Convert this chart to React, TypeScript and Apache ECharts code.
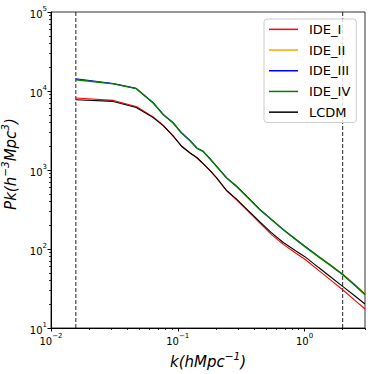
import React, { useEffect, useRef } from "react";
import * as echarts from "echarts";

const K = [0.0157, 0.031, 0.047, 0.064, 0.077, 0.092, 0.107, 0.125, 0.141, 0.158, 0.18, 0.202, 0.243, 0.291, 0.35, 0.445, 0.55, 0.68, 0.85, 1.0, 1.3, 1.6, 2.0, 2.5, 3.0];

const IDE_I = [8150, 7600, 6380, 4690, 3670, 2710, 2014, 1644, 1440, 1205, 979, 792, 543, 420, 312, 212, 152, 114.6, 89, 74.7, 53.2, 40.7, 30.5, 22.4, 17.4];
const IDE_II = [14100, 12350, 10750, 7080, 5020, 3950, 2950, 2360, 1900, 1726, 1383, 1115, 795, 622, 463, 316, 236, 177, 134, 109.5, 80.5, 63.2, 48.3, 35.6, 27.2];
const IDE_III = [14300, 12450, 10800, 7100, 5030, 3960, 2960, 2365, 1905, 1730, 1385, 1118, 796, 623, 463, 316, 235, 176, 133, 109, 79.6, 62.5, 47.7, 34.9, 26.6];
const IDE_IV = [13900, 12300, 10700, 7050, 5000, 3935, 2940, 2350, 1897, 1722, 1380, 1112, 792, 620, 461, 314, 234, 175, 132, 108, 79, 62, 47.3, 34.5, 26.3];
const LCDM = [7760, 7380, 6190, 4600, 3620, 2680, 2000, 1640, 1440, 1210, 985, 800, 550, 428, 320, 220, 160, 121, 95, 80.5, 57.8, 44.6, 33.6, 25.4, 20.1];

const SERIES_NAMES = ["IDE_I", "IDE_II", "IDE_III", "IDE_IV", "LCDM"];
const SERIES_VALUES = [IDE_I, IDE_II, IDE_III, IDE_IV, LCDM];
const SERIES_COLORS = ["#ff0000", "#ffa500", "#0000ff", "#008000", "#000000"];

const K_CUTS = [0.0157, 2.0];
const Y_RANGE = [10, 100000];

const X_MAJOR = [0.01, 0.1, 1];
const X_MINOR = [0.02, 0.03, 0.04, 0.05, 0.06, 0.07, 0.08, 0.09, 0.2, 0.3, 0.4, 0.5, 0.6, 0.7, 0.8, 0.9, 2, 3];
const Y_MAJOR = [10, 100, 1000, 10000, 100000];
const Y_MINOR = [20, 30, 40, 50, 60, 70, 80, 90, 200, 300, 400, 500, 600, 700, 800, 900, 2000, 3000, 4000, 5000, 6000, 7000, 8000, 9000, 20000, 30000, 40000, 50000, 60000, 70000, 80000, 90000];

const FONT = "DejaVu Sans";

const sup = (v: number) => {
  const e = Math.round(Math.log10(v));
  const s = e < 0 ? "\u2212" + String(-e) : String(e);
  return `{b|10}{s|${s}}`;
};

const tickRich = {
  b: { fontSize: 10, fontFamily: FONT, color: "#000", lineHeight: 14, verticalAlign: "bottom" },
  s: { fontSize: 7, fontFamily: FONT, color: "#000", lineHeight: 8, verticalAlign: "top" },
};

const nameRich = {
  n: { fontSize: 15, fontFamily: FONT, fontStyle: "italic", color: "#000", lineHeight: 19, verticalAlign: "bottom" },
  s: { fontSize: 10.5, fontFamily: FONT, fontStyle: "italic", color: "#000", lineHeight: 11, verticalAlign: "top" },
};

export default function App() {
  const ref = useRef<HTMLDivElement>(null);
  useEffect(() => {
    if (!ref.current) return;
    const chart = echarts.init(ref.current, null, { renderer: "svg" });
    const series: any[] = SERIES_NAMES.map((name, i) => ({
      name,
      type: "line",
      data: K.map((k, j) => [k, SERIES_VALUES[i][j]]),
      showSymbol: false,
      symbol: "none",
      lineStyle: { color: SERIES_COLORS[i], width: i === 3 ? 1.4 : 1.1 },
      itemStyle: { color: SERIES_COLORS[i] },
      xAxisIndex: 0,
      yAxisIndex: 0,
      z: 2 + i,
    }));
    K_CUTS.forEach((k, i) => {
      series.push({
        name: "cut" + i,
        type: "line",
        data: [[k, Y_RANGE[0]], [k, Y_RANGE[1]]],
        showSymbol: false,
        symbol: "none",
        silent: true,
        lineStyle: { color: "#222", type: [4, 2], width: 1 },
        xAxisIndex: 0,
        yAxisIndex: 0,
        z: 1,
      });
    });
    chart.setOption({
      animation: false,
      backgroundColor: "#fff",
      grid: { left: 51, right: 9, top: 12, bottom: 46, outerBoundsMode: "none", containLabel: false, show: true, borderColor: "#333", borderWidth: 1, backgroundColor: "transparent" },
      legend: {
        data: SERIES_NAMES,
        orient: "vertical",
        left: 264,
        top: 19,
        padding: [3, 6, 3, 5],
        icon: "rect",
        itemWidth: 29,
        itemHeight: 1.5,
        itemGap: 6,
        backgroundColor: "rgba(255,255,255,0.85)",
        borderColor: "#cccccc",
        borderWidth: 1,
        borderRadius: 3,
        textStyle: { fontFamily: FONT, fontSize: 13, color: "#000", lineHeight: 14.7, padding: [0, 0, 0, 6] },
      },
      xAxis: [
        {
          type: "log",
          logBase: 10,
          min: 0.01,
          max: 3,
          name: "{n|k(hMpc}{s|\u22121}{n|)}",
          nameLocation: "middle",
          nameGap: 12,
          nameTextStyle: { rich: nameRich },
          axisLine: { show: true, lineStyle: { color: "#000", width: 1 } },
          axisTick: { show: true, length: 3.5, lineStyle: { color: "#000" }, customValues: X_MAJOR },
          axisLabel: { show: true, margin: 4, formatter: (v: number) => sup(v), rich: tickRich, customValues: X_MAJOR },
          splitLine: { show: false },
          minorTick: { show: false },
        },
        {
          type: "log",
          logBase: 10,
          min: 0.01,
          max: 3,
          position: "bottom",
          axisLine: { show: false },
          axisTick: { show: true, length: 2, lineStyle: { color: "#000", width: 0.8 }, customValues: X_MINOR },
          axisLabel: { show: false },
          splitLine: { show: false },
        },
      ],
      yAxis: [
        {
          type: "log",
          logBase: 10,
          min: Y_RANGE[0],
          max: Y_RANGE[1],
          name: "{n|Pk(h}{s|\u22123}{n|Mpc}{s|3}{n|)}",
          nameLocation: "middle",
          nameRotate: 90,
          nameGap: 28,
          nameTextStyle: { rich: nameRich, padding: [0, 0, 0, 12] },
          axisLine: { show: true, lineStyle: { color: "#000", width: 1 } },
          axisTick: { show: true, length: 3.5, lineStyle: { color: "#000" }, customValues: Y_MAJOR },
          axisLabel: { show: true, margin: 4, formatter: (v: number) => sup(v), rich: tickRich, customValues: Y_MAJOR },
          splitLine: { show: false },
        },
        {
          type: "log",
          logBase: 10,
          min: Y_RANGE[0],
          max: Y_RANGE[1],
          position: "left",
          axisLine: { show: false },
          axisTick: { show: true, length: 2, lineStyle: { color: "#000", width: 0.8 }, customValues: Y_MINOR },
          axisLabel: { show: false },
          splitLine: { show: false },
        },
      ],
      series,
    });
    return () => chart.dispose();
  }, []);
  return <div ref={ref} style={{ width: 374, height: 374, position: "absolute", left: 0, top: 0 }} />;
}
